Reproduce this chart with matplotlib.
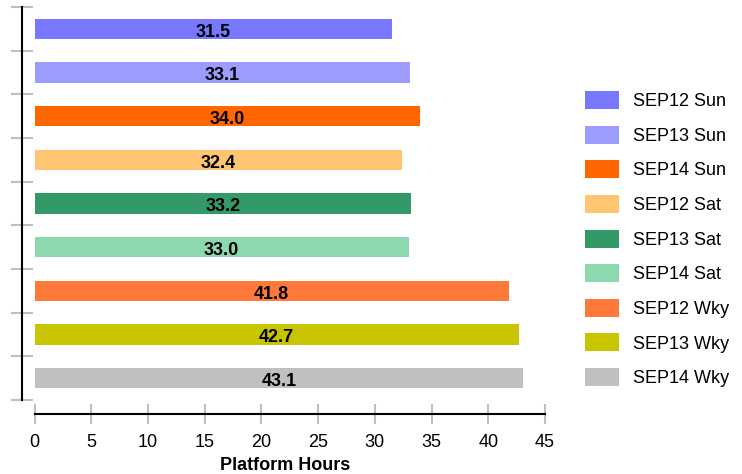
import matplotlib
matplotlib.use("Agg")
import matplotlib.pyplot as plt
from matplotlib.patches import Patch

plt.rcParams["font.family"] = ["Liberation Sans", "DejaVu Sans"]

categories = ["SEP12 Sun", "SEP13 Sun", "SEP14 Sun",
              "SEP12 Sat", "SEP13 Sat", "SEP14 Sat",
              "SEP12 Wky", "SEP13 Wky", "SEP14 Wky"]
hours = [31.5, 33.1, 34.0, 32.4, 33.2, 33.0, 41.8, 42.7, 43.1]
colors = ["#7777ff", "#9c9cff", "#ff6600",
          "#ffc570", "#339966", "#8cd9b0",
          "#ff7a3a", "#c8c400", "#c0c0c0"]
x_ticks = [0, 5, 10, 15, 20, 25, 30, 35, 40, 45]

fig = plt.figure(figsize=(7.42, 4.74), dpi=100)
ax = fig.add_axes([34.5 / 742, 1 - 400 / 474, 510.5 / 742, 393 / 474])

ypos = list(range(len(categories)))
ax.barh(ypos, hours, height=0.46, color=colors, zorder=2)
for y, v in zip(ypos, hours):
    ax.text(v / 2, y + 0.08, f"{v:.1f}", ha="center", va="center",
            fontsize=13, fontweight="bold", color="black", zorder=3)

ax.set_xlim(0, 45)
ax.set_ylim(len(categories) - 0.5, -0.5)
ax.set_xticks(x_ticks)
ax.set_yticks([i - 0.5 for i in range(len(categories) + 1)])
ax.set_yticklabels([])

for side in ("top", "right"):
    ax.spines[side].set_visible(False)
ax.spines["left"].set_position(("outward", 9))
ax.spines["bottom"].set_position(("outward", 10))
ax.spines["left"].set_linewidth(1.5)
ax.spines["bottom"].set_linewidth(1.5)

ax.tick_params(axis="y", direction="inout", length=16.5, width=1.5,
               color="#c0c0c0", left=True)
ax.tick_params(axis="x", direction="inout", length=15, width=1.5,
               color="#c0c0c0", labelsize=13, pad=7)
ax.set_xlabel("Platform Hours", fontsize=13, fontweight="bold")
ax.xaxis.set_label_coords(0.4907, -0.145)

handles = [Patch(facecolor=c, edgecolor="none") for c in colors]
fig.legend(handles, categories, loc="upper left",
           bbox_to_anchor=(585 / 742, 1 - 91 / 474),
           frameon=False, fontsize=13, borderpad=0, borderaxespad=0,
           handlelength=1.88, handleheight=1.156, handletextpad=0.78,
           labelspacing=0.86)

fig.savefig("out.png", dpi=100)
